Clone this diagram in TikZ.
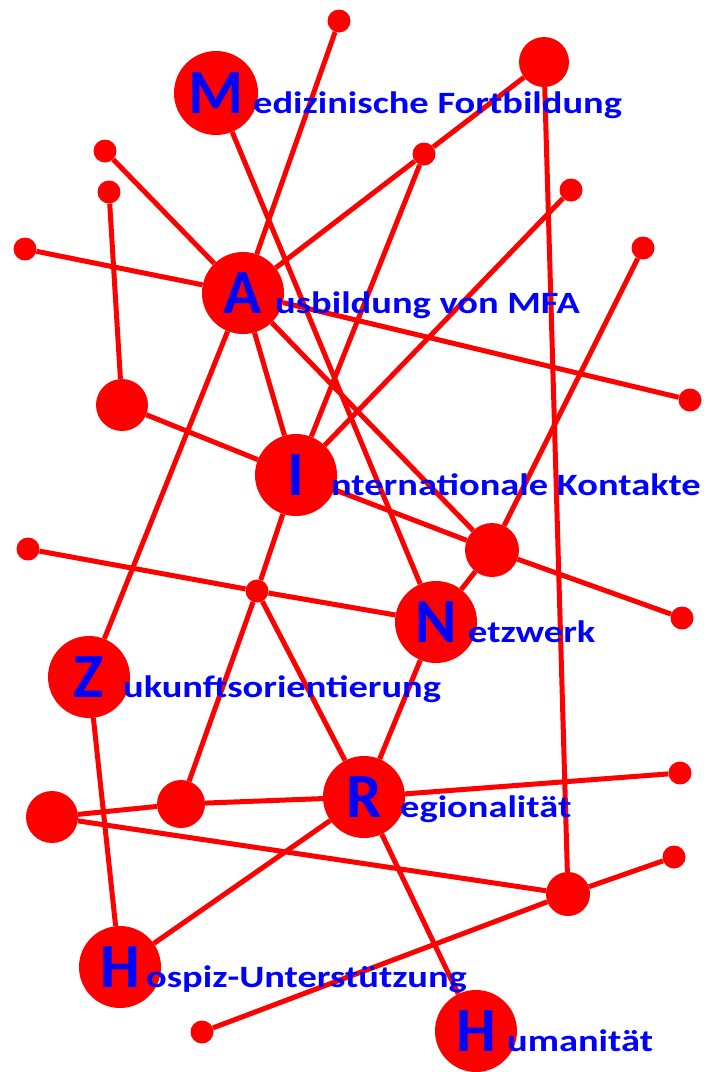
\documentclass[tikz,border=0pt]{standalone}
\usepackage{fontspec}
\usepackage{tikz}
\usetikzlibrary{positioning,backgrounds}
\newfontfamily\initfont{Carlito}
\newfontfamily\wordfont[FakeStretch=1.24]{Carlito}
\definecolor{netzRot}{HTML}{FF0000}
\definecolor{netzBlau}{HTML}{0000FF}
\tikzset{
  kreis/.style={circle, fill=netzRot, inner sep=0pt, minimum size=#1},
  kern/.style={kreis=82pt, text=netzBlau, font=\initfont\bfseries\fontsize{63}{63}\selectfont},
  punkt/.style={kreis=23pt},
  begriff/.style={anchor=base west, inner sep=0pt, text=netzBlau, font=\wordfont\bfseries\fontsize{31}{31}\selectfont},
  verbindung/.style={draw=netzRot, line width=5pt},
}

\begin{document}
\begin{tikzpicture}[x=1pt, y=-1pt]
\useasboundingbox (0,0) rectangle (707,1072);

% Kernbegriffe
\node[kern, minimum size=84pt] (kM) at (216,93) {M};
\node[kern] (kA) at (243,293) {A};
\node[kern] (kI) at (296,475) {I};
\node[kern] (kN) at (436,622) {N};
\node[kern] (kZ) at (89,677) {Z};
\node[kern] (kR) at (364,797) {R};
\node[kern] (kHo) at (120,967) {H};
\node[kern] (kHu) at (476,1031) {H};

\node[right=37pt of kM.base, begriff] {edizinische Fortbildung};
\node[right=32pt of kA.base, begriff] {usbildung von MFA};
\node[right=35pt of kI.base, begriff] {nternationale Kontakte};
\node[right=32pt of kN.base, begriff] {etzwerk};
\node[right=34pt of kZ.base, begriff] {ukunftsorientierung};
\node[right=36pt of kR.base, begriff] {egionalität};
\node[right=26pt of kHo.base, begriff] {ospiz-Unterstützung};
\node[right=31pt of kHu.base, begriff] {umanität};

% mittlere Knoten
\node[kreis=50pt] (m1) at (544,62) {};
\node[kreis=52pt] (m2) at (122,405) {};
\node[kreis=54pt] (m3) at (492,550) {};
\node[kreis=48pt] (m4) at (181,804) {};
\node[kreis=52pt] (m5) at (52,817) {};
\node[kreis=44pt] (m6) at (568,894) {};

% kleine Punkte
\node[punkt] (p1) at (339,21) {};
\node[punkt] (p2) at (105,151) {};
\node[punkt] (p3) at (424,154) {};
\node[punkt] (p4) at (109,192) {};
\node[punkt] (p5) at (571,190) {};
\node[punkt] (p6) at (25,249) {};
\node[punkt] (p7) at (643,248) {};
\node[punkt] (p8) at (690,400) {};
\node[punkt] (p9) at (28,549) {};
\node[punkt] (p10) at (257,591) {};
\node[punkt] (p11) at (682,618) {};
\node[punkt] (p12) at (680,773) {};
\node[punkt] (p13) at (674,857) {};
\node[punkt] (p14) at (202,1032) {};

% Verbindungen
\begin{scope}[on background layer]
\foreach \a/\b in {p1/kA, kA/kZ, kM/kN, m1/p3, p3/kA, p3/kI, m1/m6, p2/kA,
  p4/m2, p6/kA, kA/p8, p5/kI, p7/m3, kA/kI, kA/m3, m2/kI, kI/m3, m3/p11,
  p9/p10, p10/kN, kI/p10, p10/m4, p10/kR, kN/m3, kN/kR, kZ/kHo, m5/m4,
  m4/kR, kR/p12, m5/m6, kR/kHo, kR/kHu, m6/p13, p14/m6}
  \draw[verbindung] (\a) -- (\b);
\end{scope}
\end{tikzpicture}
\end{document}
